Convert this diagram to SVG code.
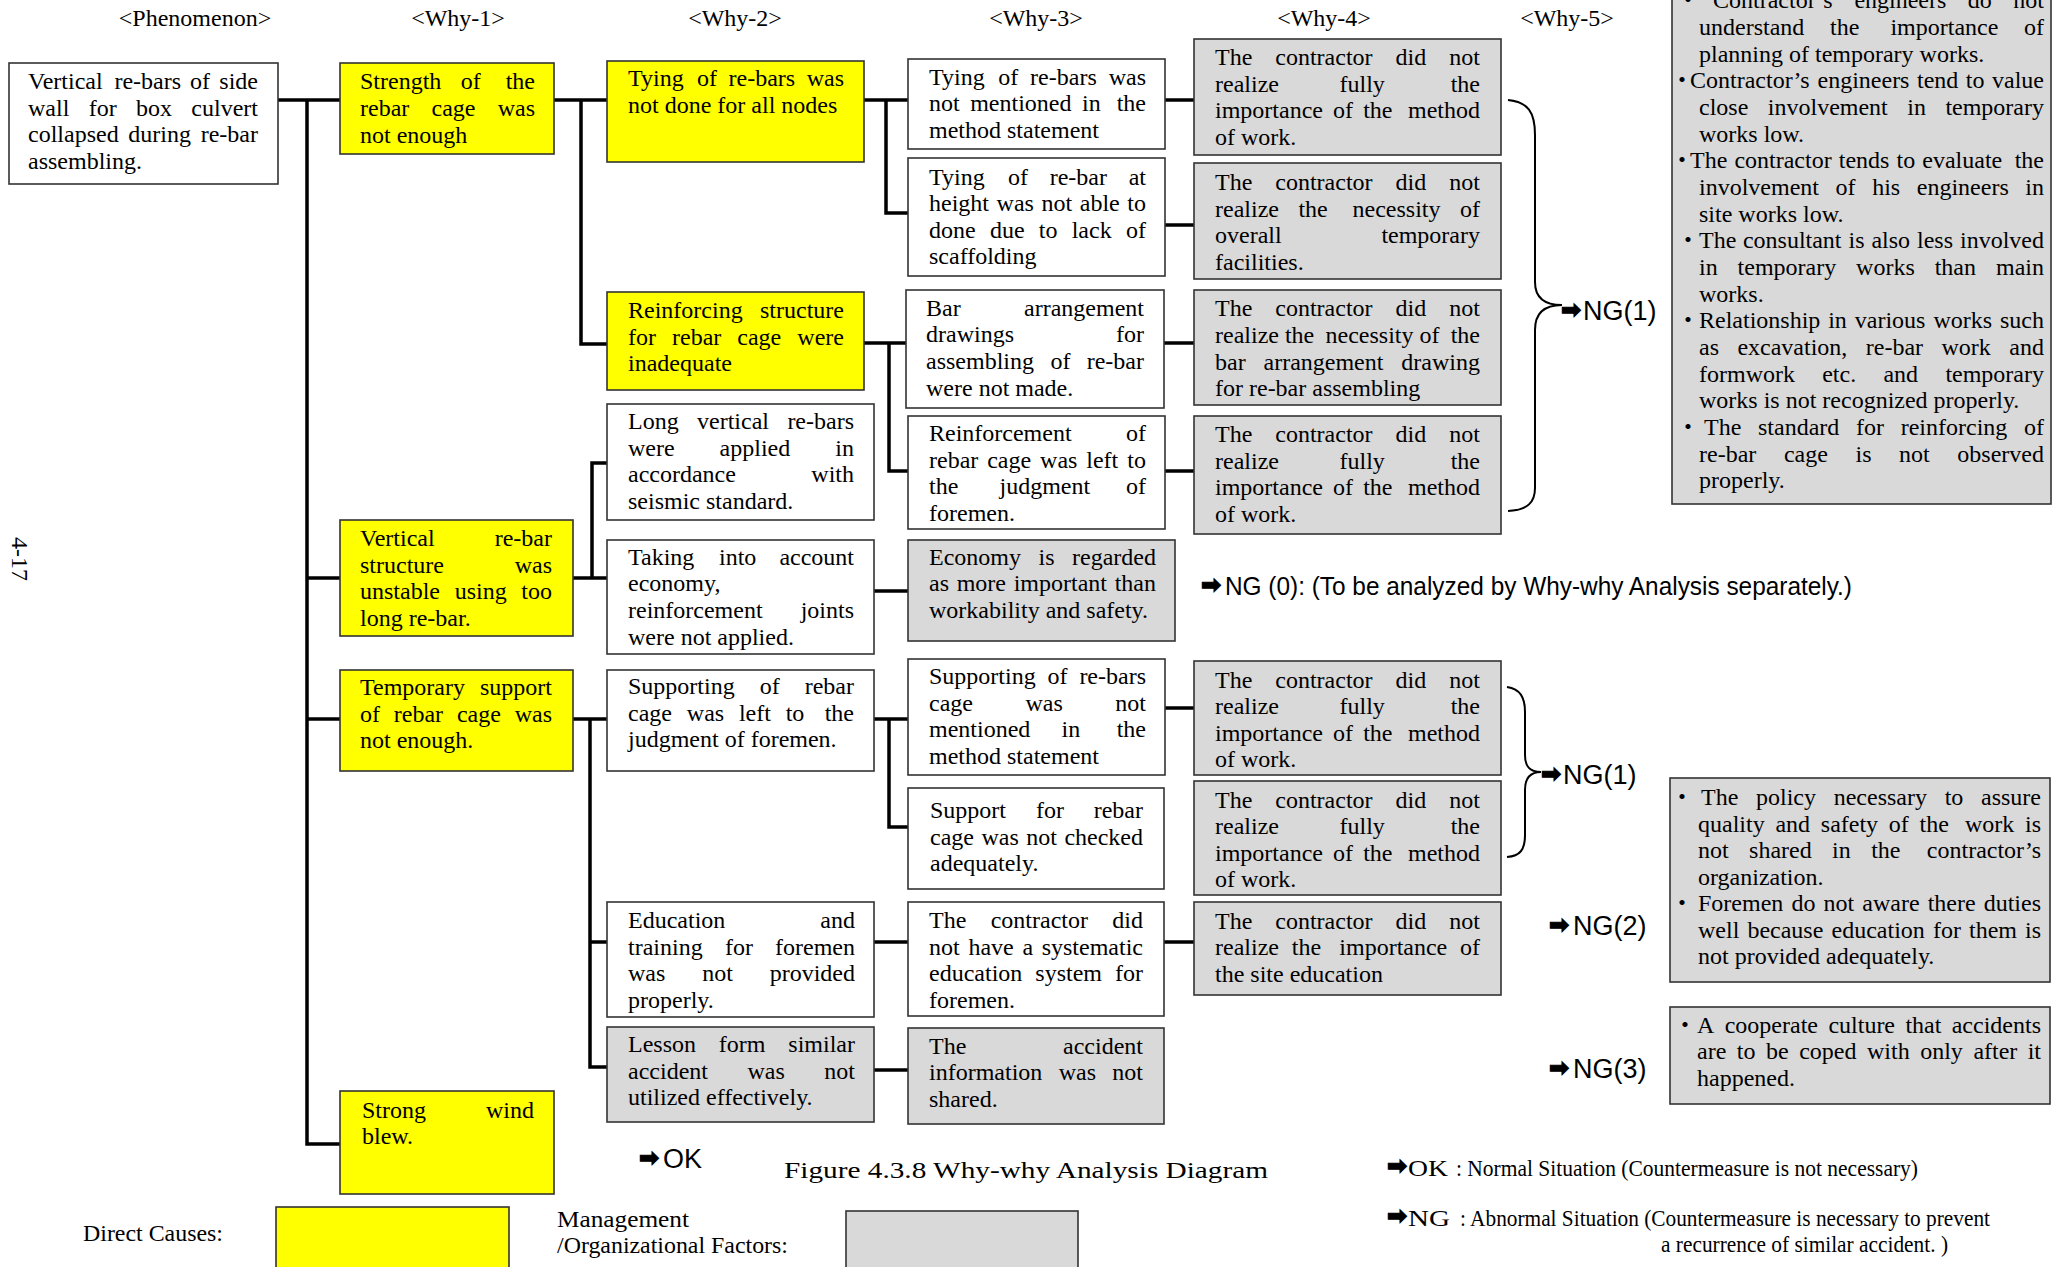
<svg xmlns="http://www.w3.org/2000/svg" width="2064" height="1267" viewBox="0 0 2064 1267">
<style>
.bx{stroke:#333;stroke-width:1.6}
.y{fill:#ffff00}
.w{fill:#ffffff}
.g{fill:#d9d9d9}
.t{font-family:"Liberation Serif","Noto Sans CJK JP",serif;font-size:24px;fill:#000}
.e{text-anchor:end}
.h{font-family:"Liberation Serif",serif;font-size:24px;fill:#000;text-anchor:middle}
.s{font-family:"Liberation Sans",Arial,sans-serif;fill:#000}
.ar{font-family:"DejaVu Sans",sans-serif;font-size:24px;font-weight:bold;fill:#000;stroke:#000;stroke-width:1.2}
.bl{font-family:"Noto Sans CJK JP",sans-serif;font-size:24px;text-anchor:middle;fill:#000}
.conn{fill:none;stroke:#000;stroke-width:3.5;stroke-linejoin:miter}
.brace{fill:none;stroke:#000;stroke-width:2}
</style>
<rect width="2064" height="1267" fill="#fff"/>

<!-- column headers -->
<g id="headers">
<text class="h" x="195" y="26">&lt;Phenomenon&gt;</text>
<text class="h" x="458" y="26">&lt;Why-1&gt;</text>
<text class="h" x="735" y="26">&lt;Why-2&gt;</text>
<text class="h" x="1036" y="26">&lt;Why-3&gt;</text>
<text class="h" x="1324" y="26">&lt;Why-4&gt;</text>
<text class="h" x="1567" y="26">&lt;Why-5&gt;</text>
</g>

<text class="t" transform="translate(12,559) rotate(90)" text-anchor="middle" font-size="22">4-17</text>

<!-- connectors -->
<g id="connectors">
<path class="conn" d="M278,100H340"/>
<path class="conn" d="M307,100V1144H340"/>
<path class="conn" d="M307,578H340"/>
<path class="conn" d="M307,719H340"/>
<path class="conn" d="M554,100H607"/>
<path class="conn" d="M581,100V344H607"/>
<path class="conn" d="M864,100H908"/>
<path class="conn" d="M886,100V213H908"/>
<path class="conn" d="M864,343H906"/>
<path class="conn" d="M889,343V471H908"/>
<path class="conn" d="M1165,100H1194"/>
<path class="conn" d="M1165,225H1194"/>
<path class="conn" d="M1164,343H1194"/>
<path class="conn" d="M1165,471H1194"/>
<path class="conn" d="M573,578H607"/>
<path class="conn" d="M592,578V463H607"/>
<path class="conn" d="M874,591H908"/>
<path class="conn" d="M573,719H607"/>
<path class="conn" d="M590,719V1067H607"/>
<path class="conn" d="M590,942H607"/>
<path class="conn" d="M874,719H908"/>
<path class="conn" d="M889,719V827H908"/>
<path class="conn" d="M1165,708H1194"/>
<path class="conn" d="M874,942H908"/>
<path class="conn" d="M1164,942H1194"/>
<path class="conn" d="M874,1070H908"/>
<path class="brace" d="M1508,100C1528,102 1535,112 1535,135L1535,282C1535,298 1545,305 1562,305C1545,305 1535,312 1535,330L1535,488C1535,502 1528,510 1508,511"/>
<path class="brace" d="M1507,687C1520,689 1525,697 1525,712L1525,755C1525,767 1530,772 1541,772C1530,772 1525,778 1525,790L1525,835C1525,850 1520,856 1507,857"/>
</g>

<!-- phenomenon -->
<g id="phenomenon">
<rect class="bx w" x="9" y="63" width="269" height="121"/>
<text class="t" y="89"><tspan x="28">Vertical</tspan><tspan x="114.4">re-bars</tspan><tspan x="190.1">of</tspan><tspan x="258" class="e">side</tspan></text>
<text class="t" y="116"><tspan x="28">wall</tspan><tspan x="88.7">for</tspan><tspan x="136.1">box</tspan><tspan x="258" class="e">culvert</tspan></text>
<text class="t" y="142"><tspan x="28">collapsed</tspan><tspan x="128.3">during</tspan><tspan x="258" class="e">re-bar</tspan></text>
<text class="t" x="28" y="169">assembling.</text>
</g>

<!-- why-1 -->
<g id="why1-strength">
<rect class="bx y" x="340" y="63" width="214" height="91"/>
<text class="t" y="89"><tspan x="360">Strength</tspan><tspan x="460.8">of</tspan><tspan x="535" class="e">the</tspan></text>
<text class="t" y="116"><tspan x="360">rebar</tspan><tspan x="431.5">cage</tspan><tspan x="535" class="e">was</tspan></text>
<text class="t" x="360" y="143">not enough</text>
</g>
<g id="why1-vertical">
<rect class="bx y" x="340" y="520" width="233" height="116"/>
<text class="t" y="546"><tspan x="360">Vertical</tspan><tspan x="552" class="e">re-bar</tspan></text>
<text class="t" y="573"><tspan x="360">structure</tspan><tspan x="552" class="e">was</tspan></text>
<text class="t" y="599"><tspan x="360">unstable</tspan><tspan x="454.7">using</tspan><tspan x="552" class="e">too</tspan></text>
<text class="t" x="360" y="626">long re-bar.</text>
</g>
<g id="why1-support">
<rect class="bx y" x="340" y="670" width="233" height="101"/>
<text class="t" y="695"><tspan x="360">Temporary</tspan><tspan x="552" class="e">support</tspan></text>
<text class="t" y="722"><tspan x="360">of</tspan><tspan x="393.8">rebar</tspan><tspan x="456.9">cage</tspan><tspan x="552" class="e">was</tspan></text>
<text class="t" x="360" y="748">not enough.</text>
</g>
<g id="why1-wind">
<rect class="bx y" x="340" y="1091" width="214" height="103"/>
<text class="t" y="1118"><tspan x="362">Strong</tspan><tspan x="534" class="e">wind</tspan></text>
<text class="t" x="362" y="1144">blew.</text>
</g>

<!-- why-2 -->
<g id="why2-tying">
<rect class="bx y" x="607" y="61" width="257" height="101"/>
<text class="t" y="86"><tspan x="628">Tying</tspan><tspan x="696.9">of</tspan><tspan x="728.5">re-bars</tspan><tspan x="844" class="e">was</tspan></text>
<text class="t" x="628" y="113">not done for all nodes</text>
</g>
<g id="why2-reinforcing">
<rect class="bx y" x="607" y="292" width="257" height="98"/>
<text class="t" y="318"><tspan x="628">Reinforcing</tspan><tspan x="844" class="e">structure</tspan></text>
<text class="t" y="345"><tspan x="628">for</tspan><tspan x="672">rebar</tspan><tspan x="737.3">cage</tspan><tspan x="844" class="e">were</tspan></text>
<text class="t" x="628" y="371">inadequate</text>
</g>
<g id="why2-long">
<rect class="bx w" x="607" y="404" width="267" height="116"/>
<text class="t" y="429"><tspan x="628">Long</tspan><tspan x="697">vertical</tspan><tspan x="854" class="e">re-bars</tspan></text>
<text class="t" y="456"><tspan x="628">were</tspan><tspan x="719.6">applied</tspan><tspan x="854" class="e">in</tspan></text>
<text class="t" y="482"><tspan x="628">accordance</tspan><tspan x="854" class="e">with</tspan></text>
<text class="t" x="628" y="509">seismic standard.</text>
</g>
<g id="why2-economy">
<rect class="bx w" x="607" y="540" width="267" height="114"/>
<text class="t" y="565"><tspan x="628">Taking</tspan><tspan x="719">into</tspan><tspan x="854" class="e">account</tspan></text>
<text class="t" x="628" y="591">economy,</text>
<text class="t" y="618"><tspan x="628">reinforcement</tspan><tspan x="854" class="e">joints</tspan></text>
<text class="t" x="628" y="645">were not applied.</text>
</g>
<g id="why2-supporting">
<rect class="bx w" x="607" y="670" width="267" height="101"/>
<text class="t" y="694"><tspan x="628">Supporting</tspan><tspan x="759.7">of</tspan><tspan x="854" class="e">rebar</tspan></text>
<text class="t" y="721"><tspan x="628">cage</tspan><tspan x="686.8">was</tspan><tspan x="738.9">left</tspan><tspan x="785.7">to</tspan><tspan x="854" class="e">the</tspan></text>
<text class="t" x="628" y="747">judgment of foremen.</text>
</g>
<g id="why2-education">
<rect class="bx w" x="607" y="902" width="267" height="115"/>
<text class="t" y="928"><tspan x="628">Education</tspan><tspan x="855" class="e">and</tspan></text>
<text class="t" y="955"><tspan x="628">training</tspan><tspan x="724.9">for</tspan><tspan x="855" class="e">foremen</tspan></text>
<text class="t" y="981"><tspan x="628">was</tspan><tspan x="702.2">not</tspan><tspan x="855" class="e">provided</tspan></text>
<text class="t" x="628" y="1008">properly.</text>
</g>
<g id="why2-lesson">
<rect class="bx g" x="607" y="1027" width="267" height="95"/>
<text class="t" y="1052"><tspan x="628">Lesson</tspan><tspan x="718.8">form</tspan><tspan x="855" class="e">similar</tspan></text>
<text class="t" y="1079"><tspan x="628">accident</tspan><tspan x="747.5">was</tspan><tspan x="855" class="e">not</tspan></text>
<text class="t" x="628" y="1105">utilized effectively.</text>
</g>

<!-- why-3 -->
<g id="why3-method">
<rect class="bx w" x="908" y="59" width="257" height="90"/>
<text class="t" y="85"><tspan x="929">Tying</tspan><tspan x="998.2">of</tspan><tspan x="1030.1">re-bars</tspan><tspan x="1146" class="e">was</tspan></text>
<text class="t" y="111"><tspan x="929">not</tspan><tspan x="970.2">mentioned</tspan><tspan x="1082">in</tspan><tspan x="1146" class="e">the</tspan></text>
<text class="t" x="929" y="138">method statement</text>
</g>
<g id="why3-scaffold">
<rect class="bx w" x="908" y="158" width="257" height="118"/>
<text class="t" y="185"><tspan x="929">Tying</tspan><tspan x="1008">of</tspan><tspan x="1049.7">re-bar</tspan><tspan x="1146" class="e">at</tspan></text>
<text class="t" y="211"><tspan x="929">height</tspan><tspan x="996.6">was</tspan><tspan x="1041.5">not</tspan><tspan x="1079.8">able</tspan><tspan x="1146" class="e">to</tspan></text>
<text class="t" y="238"><tspan x="929">done</tspan><tspan x="989.9">due</tspan><tspan x="1038.8">to</tspan><tspan x="1071.7">lack</tspan><tspan x="1146" class="e">of</tspan></text>
<text class="t" x="929" y="264">scaffolding</text>
</g>
<g id="why3-drawings">
<rect class="bx w" x="906" y="290" width="258" height="118"/>
<text class="t" y="316"><tspan x="926">Bar</tspan><tspan x="1144" class="e">arrangement</tspan></text>
<text class="t" y="342"><tspan x="926">drawings</tspan><tspan x="1144" class="e">for</tspan></text>
<text class="t" y="369"><tspan x="926">assembling</tspan><tspan x="1050.4">of</tspan><tspan x="1144" class="e">re-bar</tspan></text>
<text class="t" x="926" y="396">were not made.</text>
</g>
<g id="why3-judgment">
<rect class="bx w" x="908" y="416" width="257" height="113"/>
<text class="t" y="441"><tspan x="929">Reinforcement</tspan><tspan x="1146" class="e">of</tspan></text>
<text class="t" y="468"><tspan x="929">rebar</tspan><tspan x="987.2">cage</tspan><tspan x="1040.1">was</tspan><tspan x="1086.3">left</tspan><tspan x="1146" class="e">to</tspan></text>
<text class="t" y="494"><tspan x="929">the</tspan><tspan x="999.5">judgment</tspan><tspan x="1146" class="e">of</tspan></text>
<text class="t" x="929" y="521">foremen.</text>
</g>
<g id="why3-economy">
<rect class="bx g" x="908" y="540" width="267" height="101"/>
<text class="t" y="565"><tspan x="929">Economy</tspan><tspan x="1038.5">is</tspan><tspan x="1156" class="e">regarded</tspan></text>
<text class="t" y="591"><tspan x="929">as</tspan><tspan x="956.7">more</tspan><tspan x="1013.7">important</tspan><tspan x="1156" class="e">than</tspan></text>
<text class="t" x="929" y="618">workability and safety.</text>
</g>
<g id="why3-supporting">
<rect class="bx w" x="908" y="659" width="257" height="116"/>
<text class="t" y="684"><tspan x="929">Supporting</tspan><tspan x="1047.6">of</tspan><tspan x="1146" class="e">re-bars</tspan></text>
<text class="t" y="711"><tspan x="929">cage</tspan><tspan x="1025.5">was</tspan><tspan x="1146" class="e">not</tspan></text>
<text class="t" y="737"><tspan x="929">mentioned</tspan><tspan x="1061.5">in</tspan><tspan x="1146" class="e">the</tspan></text>
<text class="t" x="929" y="764">method statement</text>
</g>
<g id="why3-checked">
<rect class="bx w" x="908" y="788" width="256" height="101"/>
<text class="t" y="818"><tspan x="930">Support</tspan><tspan x="1035.9">for</tspan><tspan x="1143" class="e">rebar</tspan></text>
<text class="t" y="845"><tspan x="930">cage</tspan><tspan x="981.5">was</tspan><tspan x="1026.3">not</tspan><tspan x="1143" class="e">checked</tspan></text>
<text class="t" x="930" y="871">adequately.</text>
</g>
<g id="why3-education">
<rect class="bx w" x="908" y="902" width="256" height="114"/>
<text class="t" y="928"><tspan x="929">The</tspan><tspan x="990.7">contractor</tspan><tspan x="1143" class="e">did</tspan></text>
<text class="t" y="955"><tspan x="929">not</tspan><tspan x="968.4">have</tspan><tspan x="1022.4">a</tspan><tspan x="1143" class="e">systematic</tspan></text>
<text class="t" y="981"><tspan x="929">education</tspan><tspan x="1035.3">system</tspan><tspan x="1143" class="e">for</tspan></text>
<text class="t" x="929" y="1008">foremen.</text>
</g>
<g id="why3-accident">
<rect class="bx g" x="908" y="1028" width="256" height="96"/>
<text class="t" y="1054"><tspan x="929">The</tspan><tspan x="1143" class="e">accident</tspan></text>
<text class="t" y="1080"><tspan x="929">information</tspan><tspan x="1058.7">was</tspan><tspan x="1143" class="e">not</tspan></text>
<text class="t" x="929" y="1107">shared.</text>
</g>

<!-- why-4 -->
<g id="why4-method-a">
<rect class="bx g" x="1194" y="39" width="307" height="116"/>
<text class="t" y="65"><tspan x="1215">The</tspan><tspan x="1275.3">contractor</tspan><tspan x="1395.6">did</tspan><tspan x="1480" class="e">not</tspan></text>
<text class="t" y="92"><tspan x="1215">realize</tspan><tspan x="1339.5">fully</tspan><tspan x="1480" class="e">the</tspan></text>
<text class="t" y="118"><tspan x="1215">importance</tspan><tspan x="1333.1">of</tspan><tspan x="1363.2">the</tspan><tspan x="1480" class="e">method</tspan></text>
<text class="t" x="1215" y="145">of work.</text>
</g>
<g id="why4-facilities">
<rect class="bx g" x="1194" y="163" width="307" height="116"/>
<text class="t" y="190"><tspan x="1215">The</tspan><tspan x="1275.3">contractor</tspan><tspan x="1395.6">did</tspan><tspan x="1480" class="e">not</tspan></text>
<text class="t" y="217"><tspan x="1215">realize</tspan><tspan x="1298.4">the</tspan><tspan x="1352.5">necessity</tspan><tspan x="1480" class="e">of</tspan></text>
<text class="t" y="243"><tspan x="1215">overall</tspan><tspan x="1480" class="e">temporary</tspan></text>
<text class="t" x="1215" y="270">facilities.</text>
</g>
<g id="why4-drawing">
<rect class="bx g" x="1194" y="290" width="307" height="115"/>
<text class="t" y="316"><tspan x="1215">The</tspan><tspan x="1275.3">contractor</tspan><tspan x="1395.6">did</tspan><tspan x="1480" class="e">not</tspan></text>
<text class="t" y="343"><tspan x="1215">realize</tspan><tspan x="1284.9">the</tspan><tspan x="1325.5">necessity</tspan><tspan x="1419.4">of</tspan><tspan x="1480" class="e">the</tspan></text>
<text class="t" y="370"><tspan x="1215">bar</tspan><tspan x="1263.5">arrangement</tspan><tspan x="1480" class="e">drawing</tspan></text>
<text class="t" x="1215" y="396">for re-bar assembling</text>
</g>
<g id="why4-method-b">
<rect class="bx g" x="1194" y="416" width="307" height="118"/>
<text class="t" y="442"><tspan x="1215">The</tspan><tspan x="1275.3">contractor</tspan><tspan x="1395.6">did</tspan><tspan x="1480" class="e">not</tspan></text>
<text class="t" y="469"><tspan x="1215">realize</tspan><tspan x="1339.5">fully</tspan><tspan x="1480" class="e">the</tspan></text>
<text class="t" y="495"><tspan x="1215">importance</tspan><tspan x="1333.1">of</tspan><tspan x="1363.2">the</tspan><tspan x="1480" class="e">method</tspan></text>
<text class="t" x="1215" y="522">of work.</text>
</g>
<g id="why4-method-c">
<rect class="bx g" x="1194" y="661" width="307" height="114"/>
<text class="t" y="688"><tspan x="1215">The</tspan><tspan x="1275.3">contractor</tspan><tspan x="1395.6">did</tspan><tspan x="1480" class="e">not</tspan></text>
<text class="t" y="714"><tspan x="1215">realize</tspan><tspan x="1339.5">fully</tspan><tspan x="1480" class="e">the</tspan></text>
<text class="t" y="741"><tspan x="1215">importance</tspan><tspan x="1333.1">of</tspan><tspan x="1363.2">the</tspan><tspan x="1480" class="e">method</tspan></text>
<text class="t" x="1215" y="767">of work.</text>
</g>
<g id="why4-method-d">
<rect class="bx g" x="1194" y="781" width="307" height="114"/>
<text class="t" y="808"><tspan x="1215">The</tspan><tspan x="1275.3">contractor</tspan><tspan x="1395.6">did</tspan><tspan x="1480" class="e">not</tspan></text>
<text class="t" y="834"><tspan x="1215">realize</tspan><tspan x="1339.5">fully</tspan><tspan x="1480" class="e">the</tspan></text>
<text class="t" y="861"><tspan x="1215">importance</tspan><tspan x="1333.1">of</tspan><tspan x="1363.2">the</tspan><tspan x="1480" class="e">method</tspan></text>
<text class="t" x="1215" y="887">of work.</text>
</g>
<g id="why4-site-education">
<rect class="bx g" x="1194" y="902" width="307" height="93"/>
<text class="t" y="929"><tspan x="1215">The</tspan><tspan x="1275.3">contractor</tspan><tspan x="1395.6">did</tspan><tspan x="1480" class="e">not</tspan></text>
<text class="t" y="955"><tspan x="1215">realize</tspan><tspan x="1291.8">the</tspan><tspan x="1339.3">importance</tspan><tspan x="1480" class="e">of</tspan></text>
<text class="t" x="1215" y="982">the site education</text>
</g>

<!-- why-5 results -->
<g id="ng1-label">
<text class="ar" x="1561" y="318">➡</text>
<text class="s" x="1583" y="320" font-size="27">NG(1)</text>
</g>
<g id="ng1-causes">
<rect class="bx g" x="1672" y="-20" width="379" height="524"/>
<text class="bl" x="1688" y="8">・</text>
<text class="t" y="8"><tspan x="1713">Contractor’s</tspan><tspan x="1854.4">engineers</tspan><tspan x="1967.8">do</tspan><tspan x="2044" class="e">not</tspan></text>
<text class="t" y="35"><tspan x="1699">understand</tspan><tspan x="1830">the</tspan><tspan x="1890.4">importance</tspan><tspan x="2044" class="e">of</tspan></text>
<text class="t" x="1699" y="62">planning of temporary works.</text>
<text class="bl" x="1682" y="88">・</text>
<text class="t" y="88"><tspan x="1690">Contractor’s</tspan><tspan x="1817.5">engineers</tspan><tspan x="1917">tend</tspan><tspan x="1965.8">to</tspan><tspan x="2044" class="e">value</tspan></text>
<text class="t" y="115"><tspan x="1699">close</tspan><tspan x="1767.8">involvement</tspan><tspan x="1907.3">in</tspan><tspan x="2044" class="e">temporary</tspan></text>
<text class="t" x="1699" y="142">works low.</text>
<text class="bl" x="1682" y="168">・</text>
<text class="t" y="168"><tspan x="1690">The</tspan><tspan x="1734.4">contractor</tspan><tspan x="1838.8">tends</tspan><tspan x="1896.5">to</tspan><tspan x="1922.3">evaluate</tspan><tspan x="2044" class="e">the</tspan></text>
<text class="t" y="195"><tspan x="1699">involvement</tspan><tspan x="1835.6">of</tspan><tspan x="1872.2">his</tspan><tspan x="1916.8">engineers</tspan><tspan x="2044" class="e">in</tspan></text>
<text class="t" x="1699" y="222">site works low.</text>
<text class="bl" x="1688" y="248">・</text>
<text class="t" y="248"><tspan x="1699">The</tspan><tspan x="1742.9">consultant</tspan><tspan x="1848.5">is</tspan><tspan x="1871.4">also</tspan><tspan x="1917">less</tspan><tspan x="2044" class="e">involved</tspan></text>
<text class="t" y="275"><tspan x="1699">in</tspan><tspan x="1737.6">temporary</tspan><tspan x="1856.1">works</tspan><tspan x="1934.7">than</tspan><tspan x="2044" class="e">main</tspan></text>
<text class="t" x="1699" y="302">works.</text>
<text class="bl" x="1688" y="328">・</text>
<text class="t" y="328"><tspan x="1699">Relationship</tspan><tspan x="1828.2">in</tspan><tspan x="1854.8">various</tspan><tspan x="1933.4">works</tspan><tspan x="2044" class="e">such</tspan></text>
<text class="t" y="355"><tspan x="1699">as</tspan><tspan x="1737.4">excavation,</tspan><tspan x="1865.8">re-bar</tspan><tspan x="1941.5">work</tspan><tspan x="2044" class="e">and</tspan></text>
<text class="t" y="382"><tspan x="1699">formwork</tspan><tspan x="1822.2">etc.</tspan><tspan x="1883.4">and</tspan><tspan x="2044" class="e">temporary</tspan></text>
<text class="t" x="1699" y="408">works is not recognized properly.</text>
<text class="bl" x="1688" y="435">・</text>
<text class="t" y="435"><tspan x="1704">The</tspan><tspan x="1758">standard</tspan><tspan x="1856">for</tspan><tspan x="1900.7">reinforcing</tspan><tspan x="2044" class="e">of</tspan></text>
<text class="t" y="462"><tspan x="1699">re-bar</tspan><tspan x="1783.9">cage</tspan><tspan x="1855.5">is</tspan><tspan x="1899.1">not</tspan><tspan x="2044" class="e">observed</tspan></text>
<text class="t" x="1699" y="488">properly.</text>
</g>

<g id="ng0-label">
<text class="ar" x="1201" y="593">➡</text>
<text class="s" x="1225" y="595" font-size="25" textLength="627" lengthAdjust="spacingAndGlyphs">NG (0): (To be analyzed by Why-why Analysis separately.)</text>
</g>

<g id="ng1b-label">
<text class="ar" x="1541" y="782">➡</text>
<text class="s" x="1563" y="784" font-size="27">NG(1)</text>
</g>
<g id="ng2-label">
<text class="ar" x="1549" y="933">➡</text>
<text class="s" x="1573" y="935" font-size="27">NG(2)</text>
</g>
<g id="ng2-causes">
<rect class="bx g" x="1670" y="778" width="380" height="204"/>
<text class="bl" x="1682" y="805">・</text>
<text class="t" y="805"><tspan x="1701">The</tspan><tspan x="1756">policy</tspan><tspan x="1833.7">necessary</tspan><tspan x="1944.7">to</tspan><tspan x="2041" class="e">assure</tspan></text>
<text class="t" y="832"><tspan x="1698">quality</tspan><tspan x="1775.4">and</tspan><tspan x="1820.8">safety</tspan><tspan x="1888.8">of</tspan><tspan x="1919.5">the</tspan><tspan x="1964.9">work</tspan><tspan x="2041" class="e">is</tspan></text>
<text class="t" y="858"><tspan x="1698">not</tspan><tspan x="1749.1">shared</tspan><tspan x="1832.1">in</tspan><tspan x="1871.2">the</tspan><tspan x="2041" class="e">contractor’s</tspan></text>
<text class="t" x="1698" y="885">organization.</text>
<text class="bl" x="1682" y="911">・</text>
<text class="t" y="911"><tspan x="1698">Foremen</tspan><tspan x="1791.4">do</tspan><tspan x="1823.5">not</tspan><tspan x="1862.3">aware</tspan><tspan x="1927.7">there</tspan><tspan x="2041" class="e">duties</tspan></text>
<text class="t" y="938"><tspan x="1698">well</tspan><tspan x="1747.4">because</tspan><tspan x="1831.5">education</tspan><tspan x="1932.9">for</tspan><tspan x="1969">them</tspan><tspan x="2041" class="e">is</tspan></text>
<text class="t" x="1698" y="964">not provided adequately.</text>
</g>

<g id="ng3-label">
<text class="ar" x="1549" y="1076">➡</text>
<text class="s" x="1573" y="1078" font-size="27">NG(3)</text>
</g>
<g id="ng3-causes">
<rect class="bx g" x="1670" y="1007" width="380" height="97"/>
<text class="bl" x="1685" y="1033">・</text>
<text class="t" y="1033"><tspan x="1697">A</tspan><tspan x="1724.7">cooperate</tspan><tspan x="1828.4">culture</tspan><tspan x="1905.4">that</tspan><tspan x="2041" class="e">accidents</tspan></text>
<text class="t" y="1059"><tspan x="1697">are</tspan><tspan x="1736.8">to</tspan><tspan x="1766">be</tspan><tspan x="1799.2">coped</tspan><tspan x="1867">with</tspan><tspan x="1920.2">only</tspan><tspan x="1973.4">after</tspan><tspan x="2041" class="e">it</tspan></text>
<text class="t" x="1697" y="1086">happened.</text>
</g>

<g id="ok-label">
<text class="ar" x="639" y="1166">➡</text>
<text class="s" x="663" y="1168" font-size="27">OK</text>
</g>

<!-- caption and legend -->
<text class="t" x="784" y="1178" font-size="30" textLength="484" lengthAdjust="spacingAndGlyphs">Figure 4.3.8 Why-why Analysis Diagram</text>

<g id="legend">
<text class="ar" x="1387" y="1174">➡</text>
<text class="t" x="1408" y="1176" font-size="27" textLength="40" lengthAdjust="spacingAndGlyphs">OK</text>
<text class="t" x="1456" y="1176" font-size="21" textLength="462" lengthAdjust="spacingAndGlyphs">: Normal Situation (Countermeasure is not necessary)</text>
<text class="ar" x="1387" y="1224">➡</text>
<text class="t" x="1408" y="1226" font-size="27" textLength="42" lengthAdjust="spacingAndGlyphs">NG</text>
<text class="t" x="1460" y="1226" font-size="21" textLength="530" lengthAdjust="spacingAndGlyphs">: Abnormal Situation (Countermeasure is necessary to prevent</text>
<text class="t" x="1661" y="1252" font-size="21" textLength="287" lengthAdjust="spacingAndGlyphs">a recurrence of similar accident. )</text>

<text class="t" x="83" y="1241" font-size="23" textLength="140" lengthAdjust="spacingAndGlyphs">Direct Causes:</text>
<rect class="bx y" x="276" y="1207" width="233" height="80"/>
<text class="t" x="557" y="1227" font-size="23" textLength="132" lengthAdjust="spacingAndGlyphs">Management</text>
<text class="t" x="557" y="1253" font-size="23" textLength="231" lengthAdjust="spacingAndGlyphs">/Organizational Factors:</text>
<rect class="bx g" x="846" y="1211" width="232" height="80"/>
</g>
</svg>
